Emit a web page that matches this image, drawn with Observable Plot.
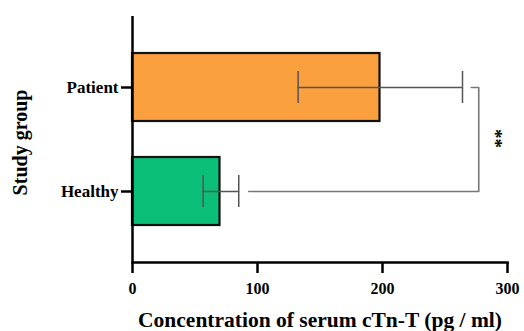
<!DOCTYPE html>
<html><head><meta charset="utf-8">
<script src="https://cdn.jsdelivr.net/npm/d3@7"></script>
<script src="https://cdn.jsdelivr.net/npm/@observablehq/plot@0.6"></script>
<style>body{margin:0;background:#fff;} #chart{width:524px;height:331px;}</style>
</head><body><div id="chart"></div>
<script>
const groups = ["Patient", "Healthy"];
const means = [198, 70];
const errLow = [132.5, 56.5];
const errHigh = [264, 85];
const colors = ["#FBA03F", "#0BBF78"];
const xTicks = [0, 100, 200, 300];
const xTitle = "Concentration of serum cTn-T (pg / ml)";
const yTitle = "Study group";
const sigLabel = "**";
const sigX = [290];
const bracketX = [271, 277, 277, 93];
const bracketY = ["Patient", "Patient", "Healthy", "Healthy"];

const data = groups.map((g, i) => ({group: g, mean: means[i], lo: errLow[i], hi: errHigh[i]}));
const bracket = bracketX.map((x, i) => ({x, y: bracketY[i]}));
const sig = sigX.map(x => ({x, y: groups[0], t: sigLabel}));

const F = "Liberation Serif";
const plot = Plot.plot({
  width: 524, height: 331,
  marginLeft: 132, marginRight: 17, marginTop: 16, marginBottom: 69,
  style: {fontFamily: F, fontWeight: "bold", background: "#fff", color: "#000"},
  x: {domain: [0, 300]},
  y: {domain: groups, paddingInner: 0.345, paddingOuter: 0.35},
  color: {domain: groups, range: colors},
  marks: [
    Plot.barX(data, {x: "mean", y: "group", fill: "group", stroke: "#111", strokeWidth: 2.2}),
    Plot.ruleY(data, {y: "group", x1: "lo", x2: "hi", stroke: "#555", strokeWidth: 1.5}),
    Plot.tickX(data, {x: "lo", y: "group", insetTop: 18, insetBottom: 18, stroke: "#555", strokeWidth: 1.5}),
    Plot.tickX(data, {x: "hi", y: "group", insetTop: 18, insetBottom: 18, stroke: "#555", strokeWidth: 1.5}),
    Plot.line(bracket, {x: "x", y: "y", stroke: "#777", strokeWidth: 1.6}),
    Plot.text(sig, {x: "x", y: "y", text: "t", dy: 51, rotate: 90, fontSize: 19, fontFamily: F, fill: "#000"}),
    Plot.axisX({ticks: xTicks, tickSize: 11, tickPadding: 9, fontSize: 16, fontFamily: F, strokeWidth: 2.5, label: null}),
    Plot.axisY({tickSize: 11, tickPadding: 3, fontSize: 17, fontFamily: F, strokeWidth: 2.5, label: null}),
    Plot.ruleX([0], {strokeWidth: 2.5}),
    Plot.frame({anchor: "bottom", strokeWidth: 2.5}),
    Plot.text([xTitle], {frameAnchor: "bottom", dy: 58, lineAnchor: "middle", textAnchor: "middle", fontSize: 21.5, fontFamily: F, fill: "#000"}),
    Plot.text([yTitle], {frameAnchor: "left", dx: -112, dy: 3, rotate: -90, textAnchor: "middle", lineAnchor: "middle", fontSize: 20, fontFamily: F, fill: "#000"})
  ]
});
document.getElementById("chart").appendChild(plot);
</script>
</body></html>
